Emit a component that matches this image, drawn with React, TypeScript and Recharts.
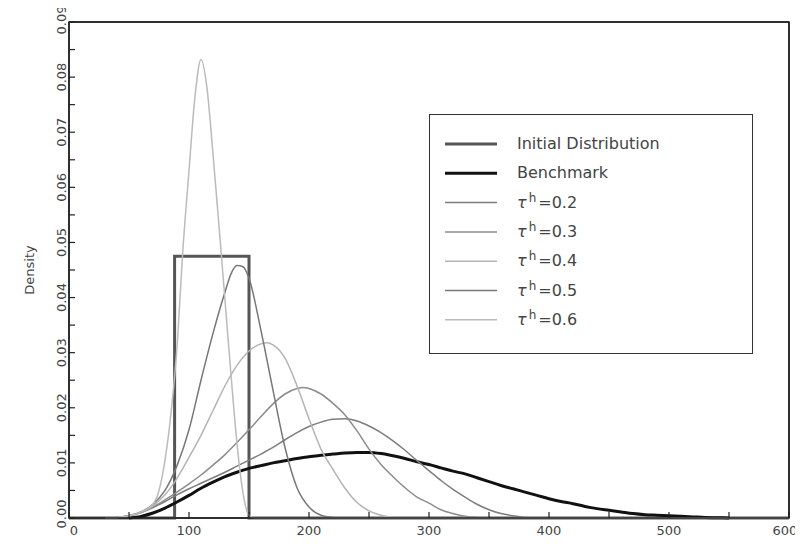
import React from 'react';
import { LineChart, Line, XAxis, YAxis, Legend, ReferenceArea } from 'recharts';

// ── Data ──────────────────────────────────────────────────────────────────────

const X_TICKS = [0, 50, 100, 150, 200, 250, 300, 350, 400, 450, 500, 550, 600];
const Y_TICKS = [
  0, 0.005, 0.01, 0.015, 0.02, 0.025, 0.03, 0.035, 0.04, 0.045,
  0.05, 0.055, 0.06, 0.065, 0.07, 0.075, 0.08, 0.085, 0.09,
];

type Pt = [number, number];

const INITIAL: Pt[] = [
  [0, 0], [88, 0], [88, 0.0475], [150, 0.0475], [150, 0], [600, 0],
];

const BENCHMARK: Pt[] = [
  [50, 0], [60, 0.0003], [70, 0.0009], [80, 0.0018], [90, 0.0029],
  [100, 0.0041], [110, 0.0054], [120, 0.0065], [130, 0.0075], [140, 0.0083],
  [150, 0.009], [160, 0.0095], [170, 0.01], [180, 0.0104], [190, 0.0108],
  [200, 0.0111], [210, 0.0114], [220, 0.0116], [230, 0.0118], [240, 0.0119],
  [250, 0.0119], [260, 0.0117], [270, 0.0113], [280, 0.0108], [290, 0.0102],
  [300, 0.0097], [310, 0.0091], [320, 0.0085], [330, 0.008], [340, 0.0073],
  [350, 0.0066], [360, 0.0059], [370, 0.0053], [380, 0.0047], [390, 0.0041],
  [400, 0.0035], [410, 0.003], [420, 0.0026], [430, 0.0021], [440, 0.0017],
  [450, 0.0014], [460, 0.0011], [470, 0.0008], [480, 0.0006], [490, 0.0005],
  [500, 0.0004], [510, 0.0003], [520, 0.0002], [530, 0.0001], [540, 0.00005],
  [550, 0],
];

const TAU_02: Pt[] = [
  [30, 0], [40, 0.0001], [50, 0.0004], [60, 0.001], [70, 0.0019], [80, 0.003],
  [90, 0.0042], [100, 0.0053], [110, 0.0063], [120, 0.0073], [130, 0.0083],
  [140, 0.0094], [150, 0.0105], [160, 0.0116], [170, 0.0128], [180, 0.0142],
  [190, 0.0155], [200, 0.0166], [210, 0.0174], [220, 0.0179], [230, 0.018],
  [240, 0.0176], [250, 0.0167], [260, 0.0155], [270, 0.014], [280, 0.0123],
  [290, 0.0104], [300, 0.0086], [310, 0.0068], [320, 0.0052], [330, 0.0038],
  [340, 0.0025], [350, 0.0015], [360, 0.0008], [370, 0.0004], [380, 0.0001],
  [390, 0], [600, 0],
];

const TAU_03: Pt[] = [
  [30, 0], [40, 0.0001], [50, 0.0004], [60, 0.001], [70, 0.002], [80, 0.0033],
  [90, 0.0047], [100, 0.0062], [110, 0.0078], [120, 0.0096], [130, 0.0115],
  [140, 0.0137], [150, 0.016], [160, 0.0184], [170, 0.0207], [180, 0.0225],
  [190, 0.0235], [195, 0.0237], [200, 0.0235], [210, 0.0225], [220, 0.0208],
  [230, 0.0187], [240, 0.0158], [250, 0.0125], [260, 0.0097], [270, 0.0075],
  [280, 0.0055], [290, 0.0038], [300, 0.0027], [310, 0.0015], [320, 0.0008],
  [330, 0.0003], [340, 0.0001], [350, 0], [600, 0],
];

const TAU_04: Pt[] = [
  [30, 0], [40, 0.0001], [50, 0.0004], [60, 0.001], [70, 0.0022], [80, 0.0042],
  [90, 0.0072], [100, 0.011], [110, 0.015], [120, 0.0195], [130, 0.024],
  [140, 0.0277], [150, 0.0303], [160, 0.0316], [165, 0.0318], [170, 0.0314],
  [180, 0.029], [190, 0.024], [200, 0.018], [210, 0.0125], [220, 0.0088],
  [230, 0.0054], [240, 0.0028], [250, 0.0013], [260, 0.0005], [270, 0.0001],
  [280, 0], [600, 0],
];

const TAU_05: Pt[] = [
  [30, 0], [40, 0.0001], [50, 0.0004], [60, 0.0011], [70, 0.0025], [80, 0.005],
  [90, 0.0095], [100, 0.016], [110, 0.025], [120, 0.0335], [130, 0.041],
  [135, 0.0443], [140, 0.0458], [145, 0.0456], [150, 0.0435], [160, 0.034],
  [170, 0.0232], [180, 0.0128], [190, 0.0055], [200, 0.002], [210, 0.0005],
  [220, 0.0001], [230, 0], [600, 0],
];

const TAU_06: Pt[] = [
  [30, 0], [40, 0.0001], [50, 0.0004], [60, 0.0011], [70, 0.0025], [75, 0.005],
  [80, 0.0105], [85, 0.019], [90, 0.031], [95, 0.049], [100, 0.063],
  [105, 0.0765], [110, 0.0832], [115, 0.078], [120, 0.066], [125, 0.053],
  [130, 0.0395], [135, 0.026], [140, 0.0135], [145, 0.0045], [150, 0.0005],
  [155, 0], [600, 0],
];

// ── Series styling ────────────────────────────────────────────────────────────

interface SeriesDef {
  key: string;
  name: string;
  tau?: string;
  points: Pt[];
  color: string;
  width: number;
  curve: 'linear' | 'monotone';
}

const SERIES: SeriesDef[] = [
  { key: 'init', name: 'Initial Distribution', points: INITIAL, color: '#555555', width: 3, curve: 'linear' },
  { key: 'bench', name: 'Benchmark', points: BENCHMARK, color: '#111111', width: 3, curve: 'monotone' },
  { key: 't02', name: 'τh=0.2', tau: '0.2', points: TAU_02, color: '#7d7d7d', width: 1.5, curve: 'monotone' },
  { key: 't03', name: 'τh=0.3', tau: '0.3', points: TAU_03, color: '#8c8c8c', width: 1.5, curve: 'monotone' },
  { key: 't04', name: 'τh=0.4', tau: '0.4', points: TAU_04, color: '#b4b4b4', width: 1.5, curve: 'monotone' },
  { key: 't05', name: 'τh=0.5', tau: '0.5', points: TAU_05, color: '#777777', width: 1.5, curve: 'monotone' },
  { key: 't06', name: 'τh=0.6', tau: '0.6', points: TAU_06, color: '#bbbbbb', width: 1.5, curve: 'monotone' },
];

const toPoints = (pts: Pt[]) => pts.map(([x, y]) => ({ x, y }));

const TEXT = '#444';
const FRAME = '#222';
const TICK_LEN = 6;

// ── Tick renderers (inward ticks, IDL style) ──────────────────────────────────

function BottomTick(props: any) {
  const { x, y, payload } = props;
  const v = payload.value as number;
  const nudge = v === 0 ? 5 : v === 600 ? -4 : 0; // end labels sit a bit inside
  return (
    <g>
      <path d={`M${x},${y}V${y - TICK_LEN}`} stroke={FRAME} strokeWidth={1.2} fill="none" />
      <text x={x + nudge} y={y + 17} textAnchor="middle" fontSize={13} fill={TEXT}>
        {v % 100 === 0 ? String(v) : ''}
      </text>
    </g>
  );
}

function TopTick(props: any) {
  const { x, y } = props;
  return (
    <g>
      <path d={`M${x},${y}V${y + TICK_LEN}`} stroke={FRAME} strokeWidth={1.2} fill="none" />
    </g>
  );
}

function LeftTick(props: any) {
  const { x, y, payload } = props;
  const v = payload.value as number;
  const major = Math.round(v * 1000) % 10 === 0;
  const tx = x - 3;
  const ty = v === 0 ? y - 4 : v === 0.09 ? y - 2 : y;
  return (
    <g>
      <path d={`M${x},${y}H${x + TICK_LEN}`} stroke={FRAME} strokeWidth={1.2} fill="none" />
      <text x={tx} y={ty} transform={`rotate(-90 ${tx} ${ty})`} textAnchor="middle"
        fontSize={13} fill={TEXT}>
        {major ? v.toFixed(2) : ''}
      </text>
    </g>
  );
}

function RightTick(props: any) {
  const { x, y } = props;
  return (
    <g>
      <path d={`M${x},${y}H${x - TICK_LEN}`} stroke={FRAME} strokeWidth={1.2} fill="none" />
    </g>
  );
}

// ── Legend box ────────────────────────────────────────────────────────────────

function LegendBox() {
  const rowY = (i: number) => 30 + i * 29.3;
  return (
    <svg width={324} height={240} style={{ display: 'block' }}>
      <rect x={0.5} y={0.5} width={323} height={239} fill="#fff" stroke="#333" strokeWidth={1} />
      {SERIES.map((s, i) => (
        <g key={s.key}>
          <line x1={16} x2={68} y1={rowY(i)} y2={rowY(i)} stroke={s.color} strokeWidth={s.width} />
          {s.tau ? (
            <text x={88} y={rowY(i) + 5} fontSize={16} fill={TEXT}>
              <tspan fontStyle="italic">τ</tspan>
              <tspan dx={2} dy={-6} fontSize={12}>h</tspan>
              <tspan dx={2} dy={6}>={s.tau}</tspan>
            </text>
          ) : (
            <text x={88} y={rowY(i) + 5} fontSize={16} fill={TEXT}>
              {s.name}
            </text>
          )}
        </g>
      ))}
    </svg>
  );
}

// ── Chart ─────────────────────────────────────────────────────────────────────

export default function App() {
  return (
    <div style={{ margin: -8, background: '#fff', width: 803, height: 546, position: 'relative',
      fontFamily: "'DejaVu Sans', sans-serif" }}>
      <LineChart width={803} height={546} margin={{ top: 21, right: 13, bottom: 0, left: 0 }}>
        <XAxis xAxisId="b" dataKey="x" type="number" domain={[0, 600]} ticks={X_TICKS} height={28}
          tickSize={0} tickMargin={0} tickLine={false} tick={BottomTick} stroke={FRAME}
          axisLine={{ stroke: FRAME, strokeWidth: 1.5 }} />
        <XAxis xAxisId="t" orientation="top" dataKey="x" type="number" domain={[0, 600]} ticks={X_TICKS}
          height={1} tickSize={0} tickMargin={0} tickLine={false} tick={TopTick} stroke={FRAME}
          axisLine={{ stroke: FRAME, strokeWidth: 1.5 }} />
        <YAxis yAxisId="l" type="number" domain={[0, 0.09]} ticks={Y_TICKS} width={69}
          tickSize={0} tickMargin={0} tickLine={false} tick={LeftTick} stroke={FRAME}
          axisLine={{ stroke: FRAME, strokeWidth: 1.5 }} />
        <YAxis yAxisId="r" orientation="right" type="number" domain={[0, 0.09]} ticks={Y_TICKS}
          width={1} tickSize={0} tickMargin={0} tickLine={false} tick={RightTick} stroke={FRAME}
          axisLine={{ stroke: FRAME, strokeWidth: 1.5 }} />

        {/* plot frame */}
        <ReferenceArea xAxisId="b" yAxisId="l" x1={0} x2={600} y1={0} y2={0.09} fill="none"
          fillOpacity={0} stroke={FRAME} strokeWidth={1.5} ifOverflow="visible" />

        {SERIES.map(s => (
          <Line
            key={s.key}
            name={s.name}
            data={toPoints(s.points)}
            dataKey="y"
            xAxisId="b"
            yAxisId="l"
            type={s.curve}
            stroke={s.color}
            strokeWidth={s.width}
            dot={false}
            activeDot={false}
            isAnimationActive={false}
          />
        ))}

        <Legend
          content={<LegendBox />}
          layout="horizontal"
          verticalAlign="middle"
          align="center"
          wrapperStyle={{ left: 429, top: 114, width: 324, height: 240 }}
        />
      </LineChart>
      <svg width={40} height={546} style={{ position: 'absolute', left: 0, top: 0, pointerEvents: 'none' }}>
        <text x={34} y={270} transform="rotate(-90 34 270)" textAnchor="middle" fontSize={13} fill={TEXT}>
          Density
        </text>
      </svg>
    </div>
  );
}
